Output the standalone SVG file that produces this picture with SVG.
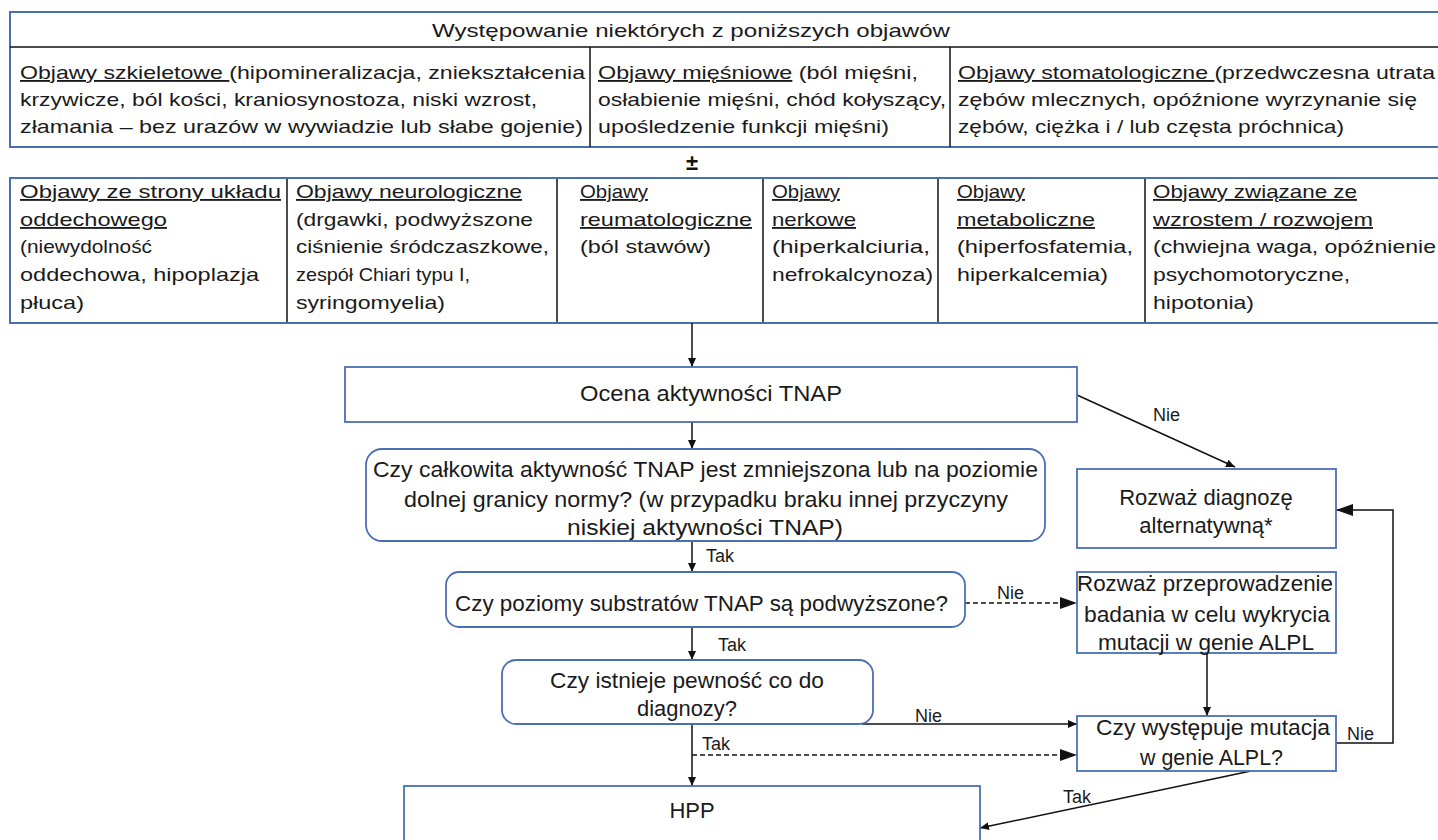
<svg xmlns="http://www.w3.org/2000/svg" width="1438" height="840" viewBox="0 0 1438 840">
<defs>
<style>
.t{font-family:"Liberation Sans",Arial,sans-serif;font-size:18.5px;fill:#1a1a1a}
.f{font-family:"Liberation Sans",Arial,sans-serif;font-size:22px;fill:#1a1a1a}
.l{font-family:"Liberation Sans",Arial,sans-serif;font-size:18px;fill:#1a1a1a}
.u{text-decoration:underline}
.ob{fill:none;stroke:#4a6fb5;stroke-width:2}
.ib{fill:none;stroke:#111;stroke-width:1.5}
.nb{fill:#fff;stroke:#4a6fb5;stroke-width:1.8}
.c{fill:none;stroke:#111;stroke-width:1.5}
.d{fill:none;stroke:#111;stroke-width:1.5;stroke-dasharray:5 3}
</style>
<marker id="sa" markerUnits="userSpaceOnUse" markerWidth="10" markerHeight="10" refX="9" refY="4" orient="auto"><path d="M0,0 L9,4 L0,8 z" fill="#111"/></marker>
<marker id="la" markerUnits="userSpaceOnUse" markerWidth="18" markerHeight="14" refX="17" refY="6" orient="auto"><path d="M0,0 L17,6 L0,12 z" fill="#111"/></marker>
</defs>
<rect width="1438" height="840" fill="#fff"/>

<g id="table1">
<rect class="ob" x="10" y="12" width="1440" height="135"/>
<line class="ib" x1="10" y1="47" x2="1438" y2="47"/>
<line class="ib" x1="590" y1="47" x2="590" y2="147"/>
<line class="ib" x1="950" y1="47" x2="950" y2="147"/>
<g id="header"><text class="t" x="432" y="37" textLength="518" lengthAdjust="spacingAndGlyphs">Występowanie niektórych z poniższych objawów</text></g>
<g id="cell-szkieletowe">
<text class="t" x="20" y="79" textLength="565" lengthAdjust="spacingAndGlyphs"><tspan class="u">Objawy szkieletowe </tspan>(hipomineralizacja, zniekształcenia</text>
<text class="t" x="20" y="106" textLength="517" lengthAdjust="spacingAndGlyphs">krzywicze, ból kości, kraniosynostoza, niski wzrost,</text>
<text class="t" x="20" y="133" textLength="563" lengthAdjust="spacingAndGlyphs">złamania – bez urazów w wywiadzie lub słabe gojenie)</text>
</g>
<g id="cell-miesniowe">
<text class="t" x="598" y="79" textLength="320" lengthAdjust="spacingAndGlyphs"><tspan class="u">Objawy mięśniowe</tspan> (ból mięśni,</text>
<text class="t" x="598" y="106" textLength="348" lengthAdjust="spacingAndGlyphs">osłabienie mięśni, chód kołyszący,</text>
<text class="t" x="598" y="133" textLength="291" lengthAdjust="spacingAndGlyphs">upośledzenie funkcji mięśni)</text>
</g>
<g id="cell-stomatologiczne">
<text class="t" x="958" y="79" textLength="477" lengthAdjust="spacingAndGlyphs"><tspan class="u">Objawy stomatologiczne </tspan>(przedwczesna utrata</text>
<text class="t" x="958" y="106" textLength="459" lengthAdjust="spacingAndGlyphs">zębów mlecznych, opóźnione wyrzynanie się</text>
<text class="t" x="958" y="133" textLength="386" lengthAdjust="spacingAndGlyphs">zębów, ciężka i / lub częsta próchnica)</text>
</g>
</g>

<g id="plusminus"><text x="692" y="170" text-anchor="middle" style="font-family:'Liberation Sans',Arial,sans-serif;font-size:22px;font-weight:bold;fill:#111">±</text></g>

<g id="table2">
<rect class="ob" x="10" y="178" width="1440" height="145"/>
<line class="ib" x1="287" y1="179" x2="287" y2="322"/>
<line class="ib" x1="557" y1="179" x2="557" y2="322"/>
<line class="ib" x1="763" y1="179" x2="763" y2="322"/>
<line class="ib" x1="938" y1="179" x2="938" y2="322"/>
<line class="ib" x1="1145" y1="179" x2="1145" y2="322"/>
<g id="cell-oddechowe">
<text class="t u" x="20" y="198" textLength="261" lengthAdjust="spacingAndGlyphs">Objawy ze strony układu</text>
<text class="t u" x="20" y="226" textLength="147" lengthAdjust="spacingAndGlyphs">oddechowego</text>
<text class="t" x="20" y="253" textLength="132" lengthAdjust="spacingAndGlyphs">(niewydolność</text>
<text class="t" x="20" y="281" textLength="239" lengthAdjust="spacingAndGlyphs">oddechowa, hipoplazja</text>
<text class="t" x="20" y="309" textLength="64" lengthAdjust="spacingAndGlyphs">płuca)</text>
</g>
<g id="cell-neurologiczne">
<text class="t u" x="296" y="198" textLength="226" lengthAdjust="spacingAndGlyphs">Objawy neurologiczne</text>
<text class="t" x="296" y="226" textLength="237" lengthAdjust="spacingAndGlyphs">(drgawki, podwyższone</text>
<text class="t" x="296" y="253" textLength="253" lengthAdjust="spacingAndGlyphs">ciśnienie śródczaszkowe,</text>
<text class="t" x="296" y="281" textLength="174" lengthAdjust="spacingAndGlyphs">zespół Chiari typu I,</text>
<text class="t" x="296" y="309" textLength="149" lengthAdjust="spacingAndGlyphs">syringomyelia)</text>
</g>
<g id="cell-reumatologiczne">
<text class="t u" x="580" y="198" textLength="68" lengthAdjust="spacingAndGlyphs">Objawy</text>
<text class="t u" x="580" y="226" textLength="172" lengthAdjust="spacingAndGlyphs">reumatologiczne</text>
<text class="t" x="580" y="253" textLength="131" lengthAdjust="spacingAndGlyphs">(ból stawów)</text>
</g>
<g id="cell-nerkowe">
<text class="t u" x="772" y="198" textLength="68" lengthAdjust="spacingAndGlyphs">Objawy</text>
<text class="t u" x="772" y="226" textLength="84" lengthAdjust="spacingAndGlyphs">nerkowe</text>
<text class="t" x="772" y="253" textLength="158" lengthAdjust="spacingAndGlyphs">(hiperkalciuria,</text>
<text class="t" x="772" y="281" textLength="161" lengthAdjust="spacingAndGlyphs">nefrokalcynoza)</text>
</g>
<g id="cell-metaboliczne">
<text class="t u" x="957" y="198" textLength="68" lengthAdjust="spacingAndGlyphs">Objawy</text>
<text class="t u" x="957" y="226" textLength="138" lengthAdjust="spacingAndGlyphs">metaboliczne</text>
<text class="t" x="957" y="253" textLength="176" lengthAdjust="spacingAndGlyphs">(hiperfosfatemia,</text>
<text class="t" x="957" y="281" textLength="151" lengthAdjust="spacingAndGlyphs">hiperkalcemia)</text>
</g>
<g id="cell-wzrost">
<text class="t u" x="1153" y="198" textLength="204" lengthAdjust="spacingAndGlyphs">Objawy związane ze</text>
<text class="t u" x="1153" y="226" textLength="220" lengthAdjust="spacingAndGlyphs">wzrostem / rozwojem</text>
<text class="t" x="1153" y="253" textLength="283" lengthAdjust="spacingAndGlyphs">(chwiejna waga, opóźnienie</text>
<text class="t" x="1153" y="281" textLength="197" lengthAdjust="spacingAndGlyphs">psychomotoryczne,</text>
<text class="t" x="1153" y="309" textLength="101" lengthAdjust="spacingAndGlyphs">hipotonia)</text>
</g>
</g>

<g id="connectors">
<line class="c" x1="692" y1="323" x2="692" y2="367" marker-end="url(#sa)"/>
<line class="c" x1="692" y1="422" x2="692" y2="449" marker-end="url(#sa)"/>
<line class="c" x1="692" y1="541" x2="692" y2="572" marker-end="url(#sa)"/>
<line class="c" x1="692" y1="627" x2="692" y2="660" marker-end="url(#sa)"/>
<line class="c" x1="692" y1="724" x2="692" y2="786" marker-end="url(#sa)"/>
<line class="d" x1="692" y1="755" x2="1077" y2="755" marker-end="url(#la)"/>
<line class="c" x1="862" y1="724" x2="1077" y2="724" marker-end="url(#sa)"/>
<line class="d" x1="965" y1="603" x2="1077" y2="603" marker-end="url(#la)"/>
<line class="c" x1="1077" y1="395" x2="1235" y2="467" marker-end="url(#sa)"/>
<line class="c" x1="1207" y1="653" x2="1207" y2="716" marker-end="url(#sa)"/>
<polyline class="c" points="1336,743 1393,743 1393,510 1336,510" marker-end="url(#la)"/>
<line class="c" x1="1251" y1="771" x2="980" y2="828" marker-end="url(#sa)"/>
<text class="l" x="706" y="562">Tak</text>
<text class="l" x="718" y="651">Tak</text>
<text class="l" x="702" y="750">Tak</text>
<text class="l" x="1063" y="803">Tak</text>
<text class="l" x="1153" y="421">Nie</text>
<text class="l" x="997" y="599">Nie</text>
<text class="l" x="915" y="722">Nie</text>
<text class="l" x="1347" y="740">Nie</text>
</g>

<g id="ocena">
<rect class="nb" x="345" y="367" width="732" height="55"/>
<text class="f" x="711" y="401" text-anchor="middle" textLength="262" lengthAdjust="spacingAndGlyphs">Ocena aktywności TNAP</text>
</g>
<g id="czy-calkowita">
<rect class="nb" x="366" y="449" width="679" height="92" rx="16"/>
<text class="f" x="373" y="477" textLength="665" lengthAdjust="spacingAndGlyphs">Czy całkowita aktywność TNAP jest zmniejszona lub na poziomie</text>
<text class="f" x="404" y="507" textLength="604" lengthAdjust="spacingAndGlyphs">dolnej granicy normy? (w przypadku braku innej przyczyny</text>
<text class="f" x="567" y="535" textLength="276" lengthAdjust="spacingAndGlyphs">niskiej aktywności TNAP)</text>
</g>
<g id="czy-poziomy">
<rect class="nb" x="446" y="572" width="519" height="55" rx="13"/>
<text class="f" x="455" y="611" textLength="493" lengthAdjust="spacingAndGlyphs">Czy poziomy substratów TNAP są podwyższone?</text>
</g>
<g id="czy-istnieje">
<rect class="nb" x="502" y="660" width="371" height="64" rx="14"/>
<text class="f" x="550" y="688" textLength="274" lengthAdjust="spacingAndGlyphs">Czy istnieje pewność co do</text>
<text class="f" x="637" y="716" textLength="100" lengthAdjust="spacingAndGlyphs">diagnozy?</text>
</g>
<g id="hpp">
<rect class="nb" x="404" y="786" width="576" height="70"/>
<text class="f" x="692" y="818" text-anchor="middle">HPP</text>
</g>
<g id="rozwaz-diagnoze">
<rect class="nb" x="1077" y="469" width="259" height="79"/>
<text class="f" x="1206" y="505" text-anchor="middle">Rozważ diagnozę</text>
<text class="f" x="1206" y="533" text-anchor="middle">alternatywną*</text>
</g>
<g id="rozwaz-badanie">
<rect class="nb" x="1077" y="572" width="259" height="81"/>
<text class="f" x="1077" y="591" textLength="256" lengthAdjust="spacingAndGlyphs">Rozważ przeprowadzenie</text>
<text class="f" x="1084" y="622" textLength="246" lengthAdjust="spacingAndGlyphs">badania w celu wykrycia</text>
<text class="f" x="1098" y="650" textLength="216" lengthAdjust="spacingAndGlyphs">mutacji w genie ALPL</text>
</g>
<g id="czy-wystepuje">
<rect class="nb" x="1077" y="716" width="259" height="55"/>
<text class="f" x="1096" y="735" textLength="234" lengthAdjust="spacingAndGlyphs">Czy występuje mutacja</text>
<text class="f" x="1140" y="765" textLength="143" lengthAdjust="spacingAndGlyphs">w genie ALPL?</text>
</g>
</svg>
